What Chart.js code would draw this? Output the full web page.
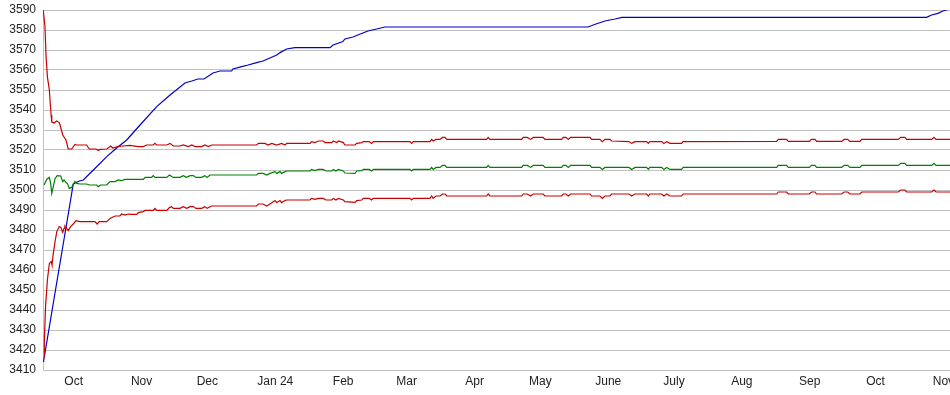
<!DOCTYPE html>
<html lang="en">
<head>
    <meta charset="UTF-8">
    <title>Rating history</title>
    <style>
        body { margin: 0; background: #fff; }
        #chart { display: block; }
    </style>
    <script src="https://cdn.jsdelivr.net/npm/chart.js"></script>
</head>
<body>
    <canvas id="chart" width="950" height="395"></canvas>

    <script>
        // x values are days counted from 17 Sep 2023
        const monthDays = [14, 45, 75, 106, 137, 166, 197, 227, 258, 288, 319, 350, 380, 411];
        const monthLabels = ['Oct', 'Nov', 'Dec', 'Jan 24', 'Feb', 'Mar', 'Apr', 'May', 'June', 'July', 'Aug', 'Sep', 'Oct', 'Nov'];
        const yMin = 3410, yMax = 3590, yStep = 10;
        const lastDay = 414;

        // blue: running total
        const blueSeries = [
            [0.2, 3414], [12.6, 3495], [13.8, 3503], [16.6, 3504.5], [18.4, 3505], [23.0, 3510],
            [29.1, 3516.7], [33.6, 3521], [38.2, 3525], [44.3, 3532.5], [51.9, 3541.7], [58.0, 3547.5],
            [64.8, 3553.5], [67.9, 3554.5], [70.7, 3555.5], [73.5, 3555.5], [77.6, 3558.5], [80.8, 3559.5],
            [86.1, 3559.5], [86.7, 3560.5], [90.7, 3561.7], [93.6, 3562.5], [97.5, 3563.7], [100.4, 3564.5],
            [103.6, 3566], [106.7, 3567.5], [108.2, 3568.7], [111.2, 3570.5], [115.0, 3571.2], [131.0, 3571.2],
            [132.4, 3572.5], [136.9, 3574.2], [137.8, 3575.5], [141.5, 3576.5], [146.0, 3578.5], [148.3, 3579.5],
            [152.3, 3580.5], [156.1, 3581.5], [248.7, 3581.5], [252.4, 3583], [256.5, 3584.5], [261.1, 3585.5],
            [264.3, 3586.3], [403.3, 3586.3], [405.6, 3587.5], [408.5, 3588.3], [410.8, 3589.5], [413.1, 3590.3]
        ];

        // upper red band
        const upperSeries = [
            [0.1, 3590], [0.9, 3581.7], [1.4, 3566.7], [2.0, 3556.7], [2.9, 3550], [3.2, 3545], [3.7, 3537.5],
            [4.0, 3534], [5.0, 3533.5], [6.3, 3534.5], [7.4, 3533.7], [7.8, 3532.5], [9.0, 3527.5], [10.5, 3525],
            [11.5, 3520.5], [13.1, 3520.5], [14.6, 3522.8], [15.4, 3522.5], [19.9, 3522.5], [21.1, 3520.5],
            [24.2, 3520.5], [25.2, 3519.7], [26.0, 3520.3], [29.1, 3520.5], [30.9, 3522], [31.9, 3521],
            [34.2, 3521.7], [36.5, 3522], [39.7, 3522.3], [43.5, 3521.7], [45.8, 3521.7], [47.3, 3522.5],
            [50.3, 3522.5], [51.1, 3523.3], [51.9, 3522.5], [56.5, 3522.5], [58.0, 3523.3], [59.5, 3522],
            [62.5, 3522], [64.0, 3522.5], [66.3, 3521.7], [67.9, 3522.5], [69.4, 3521.7], [72.4, 3521.7],
            [73.9, 3522.5], [75.4, 3521.7], [77.0, 3522.5], [97.5, 3522.5], [98.3, 3523.3], [101.3, 3523.3],
            [102.8, 3522.5], [104.4, 3523.3], [106.7, 3522.5], [108.9, 3523.3], [110.5, 3522.5], [111.2, 3523.3],
            [121.9, 3523.3], [122.6, 3524.2], [124.1, 3523.7], [125.7, 3524.5], [127.9, 3524.5], [128.7, 3523.7],
            [131.8, 3523.7], [132.5, 3524.5], [134.1, 3523.7], [134.8, 3524.5], [137.1, 3523.7], [137.8, 3522.5],
            [142.4, 3522.5], [143.2, 3523.3], [145.5, 3523.7], [146.2, 3524.2], [148.9, 3524.2], [150.0, 3523.3],
            [150.8, 3524.2], [167.5, 3524.2], [168.3, 3523.3], [169.0, 3524.2], [176.6, 3524.2], [177.4, 3525.3],
            [178.1, 3524.5], [179.4, 3525.3], [181.2, 3525.3], [182.4, 3526.3], [183.5, 3526.3], [184.3, 3525.3],
            [202.5, 3525.3], [203.2, 3526.3], [204.0, 3525.3], [218.5, 3525.3], [219.2, 3526.3], [221.0, 3526.3],
            [222.6, 3525.3], [223.8, 3526.3], [228.3, 3526.3], [229.1, 3525.3], [236.7, 3525.3], [237.5, 3526.3],
            [238.7, 3526.3], [239.8, 3525.3], [240.8, 3526.3], [249.7, 3526.3], [250.4, 3525.3], [254.2, 3525.3],
            [255.3, 3524.2], [256.5, 3525.3], [258.8, 3525.3], [259.6, 3524.5], [267.5, 3524.2], [268.7, 3523.3],
            [270.2, 3524.2], [275.5, 3524.2], [276.3, 3523.3], [277.0, 3524.2], [282.4, 3524.2], [283.4, 3523.3],
            [284.7, 3524.2], [286.2, 3523.3], [291.5, 3523.3], [292.2, 3524.2], [334.9, 3524.3], [335.6, 3525.3],
            [339.4, 3525.3], [340.2, 3524.3], [349.8, 3524.3], [350.8, 3525.3], [352.4, 3525.3], [353.1, 3524.3],
            [364.5, 3524.3], [365.7, 3525.3], [367.3, 3525.3], [368.3, 3524.3], [372.9, 3524.3], [373.7, 3525.3],
            [390.4, 3525.3], [391.5, 3526.3], [393.4, 3526.3], [394.2, 3525.3], [405.6, 3525.3], [406.7, 3526.3],
            [407.6, 3525.3], [414, 3525.3]
        ];

        // green: middle
        const middleSeries = [
            [0.5, 3502.5], [1.7, 3505.3], [2.9, 3506.3], [3.5, 3503.3], [4.0, 3498.3], [4.7, 3501.7], [5.5, 3505.8],
            [6.5, 3507.2], [8.1, 3507], [9.0, 3504.2], [9.6, 3505], [10.5, 3503.7], [11.1, 3503.3], [12.0, 3500.8],
            [13.1, 3501.3], [14.6, 3504.2], [15.4, 3503.3], [16.9, 3503], [19.9, 3503], [21.1, 3502.5],
            [24.5, 3502.5], [25.2, 3501.7], [26.3, 3502.5], [29.1, 3502.5], [30.6, 3504.2], [32.9, 3504.2],
            [34.4, 3505], [35.9, 3504.7], [37.4, 3505.3], [45.8, 3505.3], [46.6, 3506.3], [49.6, 3506.3],
            [50.3, 3507.2], [51.1, 3506.3], [56.5, 3506.3], [57.7, 3507.5], [59.5, 3506.3], [62.5, 3506.3],
            [64.0, 3507.2], [65.6, 3506.3], [67.1, 3507.2], [68.6, 3507.2], [69.8, 3506.3], [72.4, 3506.3],
            [73.9, 3507.2], [74.9, 3506.3], [76.2, 3507.5], [97.5, 3507.5], [98.3, 3508.3], [100.5, 3508.3],
            [102.1, 3507.5], [103.6, 3508.3], [105.9, 3509.2], [106.7, 3508.3], [108.2, 3509.2], [108.9, 3508.3],
            [110.5, 3509.2], [111.2, 3509.5], [121.9, 3509.5], [122.6, 3510.3], [124.1, 3509.7], [125.7, 3510.3],
            [127.9, 3510.3], [129.2, 3509.5], [131.8, 3509.5], [132.5, 3510.3], [133.7, 3509.5], [134.8, 3510.3],
            [137.1, 3509.5], [137.8, 3508.5], [142.4, 3508.3], [143.2, 3509.5], [145.5, 3509.7], [146.2, 3510.3],
            [148.9, 3510.3], [150.0, 3509.5], [150.8, 3510.3], [167.5, 3510.3], [168.3, 3509.5], [169.0, 3510.3],
            [176.6, 3510.3], [177.4, 3511.3], [178.1, 3510.3], [179.4, 3511.3], [181.2, 3511.3], [182.4, 3512.3],
            [183.5, 3512.3], [184.3, 3511.3], [202.5, 3511.3], [203.2, 3512.3], [204.0, 3511.3], [218.5, 3511.3],
            [219.2, 3512.3], [221.0, 3512.3], [222.6, 3511.3], [223.8, 3512.3], [228.3, 3512.3], [229.1, 3511.3],
            [236.7, 3511.3], [237.5, 3512.3], [238.7, 3512.3], [239.8, 3511.3], [240.8, 3512.3], [249.7, 3512.3],
            [250.4, 3511.3], [254.2, 3511.3], [255.3, 3510.3], [256.5, 3511.3], [267.5, 3511.3], [268.7, 3510.3],
            [270.2, 3511.3], [275.5, 3511.3], [276.3, 3510.3], [277.0, 3511.3], [282.4, 3511.3], [283.4, 3510.3],
            [284.7, 3511.3], [286.2, 3510.3], [291.5, 3510.3], [292.2, 3511.3], [334.9, 3511.3], [335.6, 3512.3],
            [339.4, 3512.3], [340.2, 3511.3], [349.8, 3511.3], [350.8, 3512.3], [352.4, 3512.3], [353.1, 3511.3],
            [364.5, 3511.3], [365.7, 3512.3], [367.3, 3512.3], [368.3, 3511.3], [372.9, 3511.3], [373.7, 3512.3],
            [390.4, 3512.3], [391.5, 3513.3], [393.4, 3513.3], [394.2, 3512.3], [405.6, 3512.3], [406.7, 3513.3],
            [407.6, 3512.3], [414, 3512.3]
        ];

        // lower red band
        const lowerSeries = [
            [0.5, 3416.7], [0.6, 3424.2], [1.2, 3442.5], [1.7, 3450], [2.0, 3455], [2.9, 3463.3], [3.7, 3464.2],
            [4.1, 3462.5], [4.7, 3468.3], [5.5, 3474.2], [6.3, 3479.2], [7.4, 3481.7], [8.2, 3481.3], [9.0, 3478.8],
            [9.6, 3480.8], [10.0, 3482], [10.8, 3480.8], [11.5, 3479.7], [12.6, 3481.7], [13.8, 3483], [15.1, 3484.7],
            [16.9, 3484.2], [23.7, 3484.2], [24.7, 3483], [25.7, 3484.2], [29.1, 3484.2], [30.6, 3485.8],
            [32.9, 3487], [35.1, 3487], [35.9, 3488], [37.4, 3487.5], [38.9, 3488], [39.7, 3487.8], [42.8, 3487.8],
            [43.5, 3488.7], [45.8, 3489.2], [46.6, 3489.8], [50.3, 3489.8], [51.1, 3490.8], [51.9, 3489.8],
            [56.5, 3489.8], [57.7, 3491.2], [58.7, 3491.7], [59.5, 3490.8], [62.5, 3490.8], [64.0, 3491.7],
            [65.6, 3490.8], [67.1, 3491.7], [68.6, 3491.7], [69.8, 3490.8], [72.4, 3490.8], [73.9, 3491.7],
            [74.9, 3490.8], [77.0, 3492], [97.5, 3492], [98.3, 3493], [100.5, 3493], [102.1, 3492], [103.6, 3493],
            [105.9, 3494.7], [106.7, 3493.7], [108.2, 3494.7], [108.9, 3493.7], [110.5, 3494.7], [111.2, 3495],
            [121.9, 3495], [122.6, 3495.8], [124.1, 3495.3], [125.7, 3495.8], [127.9, 3495.8], [129.2, 3495],
            [131.8, 3495], [132.5, 3495.8], [133.7, 3495], [134.8, 3495.8], [137.1, 3495], [137.8, 3494.2],
            [142.4, 3493.8], [143.2, 3494.7], [145.5, 3495], [146.2, 3495.8], [148.9, 3495.8], [150.0, 3495],
            [150.8, 3495.8], [167.5, 3495.8], [168.3, 3495], [169.0, 3495.8], [176.6, 3495.8], [177.4, 3497],
            [178.1, 3495.8], [179.4, 3497], [181.2, 3497], [182.4, 3498], [183.5, 3498], [184.3, 3497],
            [202.5, 3497], [203.2, 3498], [204.0, 3497], [218.5, 3497], [219.2, 3498], [221.0, 3498], [222.6, 3497],
            [223.8, 3498], [228.3, 3498], [229.1, 3497], [236.7, 3497], [237.5, 3498], [238.7, 3498], [239.8, 3497],
            [240.8, 3498], [249.7, 3498], [250.4, 3497], [254.2, 3497], [255.3, 3495.8], [256.5, 3497],
            [258.8, 3497], [259.6, 3498], [267.5, 3498], [268.7, 3497], [270.2, 3498], [275.5, 3498], [276.3, 3497],
            [277.0, 3498], [282.4, 3498], [283.4, 3497], [284.7, 3498], [286.2, 3497], [291.5, 3497], [292.2, 3498],
            [334.9, 3498], [335.6, 3499], [339.4, 3499], [340.2, 3498], [349.8, 3498], [350.8, 3499], [352.4, 3499],
            [353.1, 3498], [364.5, 3498], [365.7, 3499], [367.3, 3499], [368.3, 3498], [372.9, 3498], [373.7, 3499],
            [390.4, 3499], [391.5, 3500], [393.4, 3500], [394.2, 3499], [405.6, 3499], [406.7, 3500], [407.6, 3499],
            [414, 3499]
        ];

        const toPoints = s => s.map(p => ({ x: p[0], y: p[1] }));
        const lineSet = (data, color) => ({
            data: toPoints(data),
            borderColor: color,
            borderWidth: 1.2,
            pointRadius: 0,
            tension: 0,
            fill: false
        });

        const ctx = document.getElementById('chart').getContext('2d');
        const chart = new Chart(ctx, {
            type: 'line',
            data: {
                datasets: [
                    lineSet(upperSeries, '#c80000'),
                    lineSet(middleSeries, '#008000'),
                    lineSet(lowerSeries, '#c80000'),
                    lineSet(blueSeries, '#0000c8')
                ]
            },
            options: {
                responsive: false,
                animation: false,
                devicePixelRatio: 1,
                layout: { padding: { top: 10, right: 0, left: 0, bottom: 0 } },
                plugins: { legend: { display: false }, tooltip: { enabled: false } },
                scales: {
                    x: {
                        type: 'linear',
                        min: 0,
                        max: lastDay,
                        grid: { display: false, drawTicks: false },
                        border: { display: false },
                        afterBuildTicks: scale => { scale.ticks = monthDays.map(d => ({ value: d })); },
                        afterFit: scale => { scale.height = 25; scale.paddingLeft = 0; scale.paddingRight = 0; },
                        ticks: {
                            autoSkip: false,
                            maxRotation: 0,
                            padding: 4,
                            color: '#222',
                            font: { family: 'Liberation Sans, Arial, sans-serif', size: 12 },
                            callback: (v, i) => monthLabels[i]
                        }
                    },
                    y: {
                        min: yMin,
                        max: yMax,
                        grid: { color: '#c0c0c0', drawTicks: false, lineWidth: 1 },
                        border: { display: true, color: '#c0c0c0' },
                        afterFit: scale => { scale.width = 43; scale.paddingTop = 0; scale.paddingBottom = 0; },
                        ticks: {
                            stepSize: yStep,
                            padding: 7,
                            color: '#222',
                            font: { family: 'Liberation Sans, Arial, sans-serif', size: 12 },
                            callback: v => String(v)
                        }
                    }
                }
            }
        });
    </script>
</body>
</html>
